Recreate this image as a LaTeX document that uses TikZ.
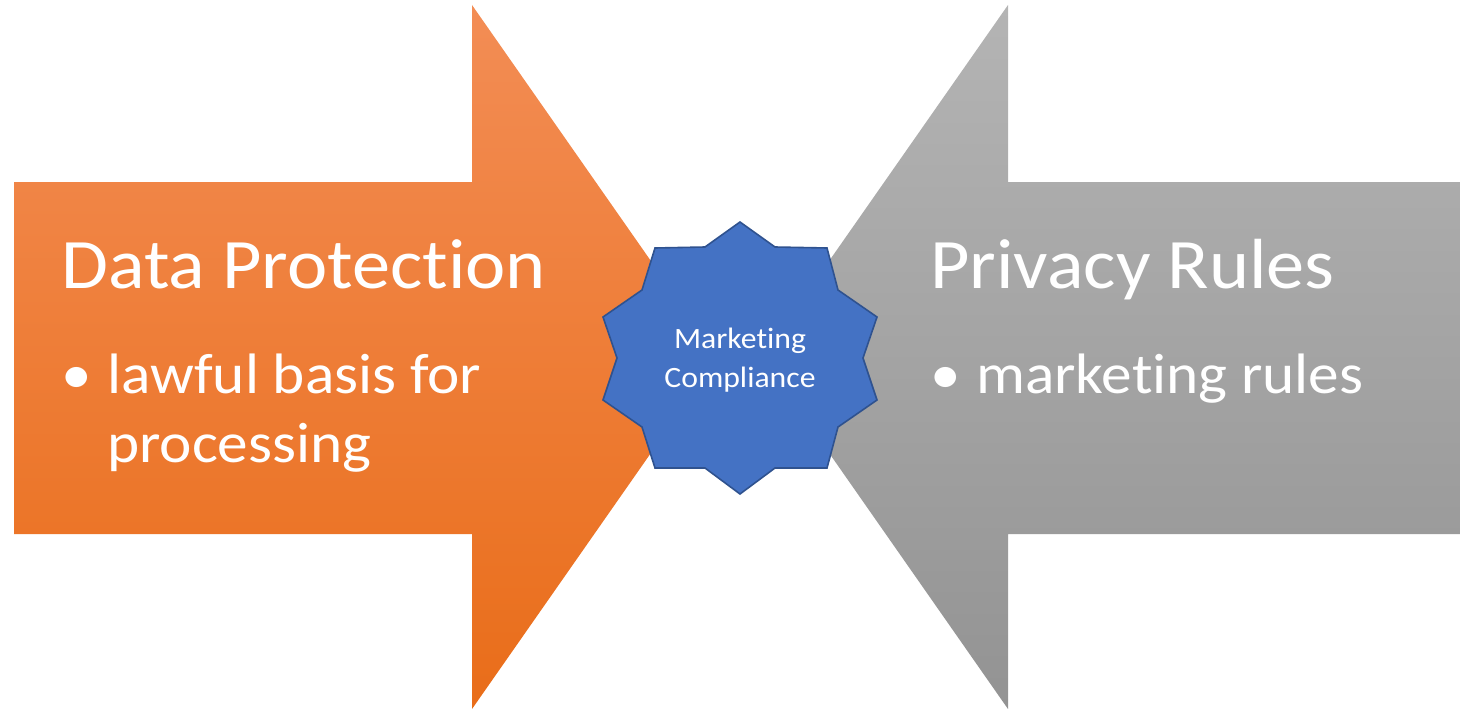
\documentclass[tikz,border=0pt]{standalone}
\usepackage{fontspec}
\setmainfont{Carlito}[Ligatures=NoCommon]
\definecolor{orTop}{HTML}{F38D55}
\definecolor{orBot}{HTML}{E96D19}
\definecolor{grTop}{HTML}{B4B4B4}
\definecolor{grBot}{HTML}{939393}
\definecolor{starFill}{HTML}{4472C4}
\definecolor{starLine}{HTML}{2F528F}
\newcommand{\wide}[1]{\scalebox{1.075}[1]{#1}}
\tikzset{
  orangearrow/.style={top color=orTop, bottom color=orBot, draw=none},
  grayarrow/.style={top color=grTop, bottom color=grBot, draw=none},
  starshape/.style={fill=starFill, draw=starLine, line width=1.6pt, line join=miter},
  titletext/.style={text=white, inner sep=0pt, anchor=base west, font=\fontsize{71}{85}\selectfont},
  bodytext/.style={text=white, inner sep=0pt, anchor=base west, font=\fontsize{57}{68.7}\selectfont},
  startext/.style={text=white, inner sep=0pt, anchor=base, font=\fontsize{29.5}{36}\selectfont},
}
\begin{document}
\begin{tikzpicture}[x=1pt,y=-1pt]
\useasboundingbox (0,0) rectangle (1460,709);
% orange arrow
\path[orangearrow] (14,182) -- (472,182) -- (472,5) -- (718,357) -- (472,709) -- (472,534) -- (14,534) -- cycle;
% gray arrow
\path[grayarrow] (1460,182) -- (1008,182) -- (1008,5) -- (762,357) -- (1008,709) -- (1008,534) -- (1460,534) -- cycle;
% star
\draw[starshape] (740,222) -- (775,247) -- (827,248) -- (838,290) -- (877,317) -- (863,358) -- (877,400) -- (838,427) -- (827,468) -- (775,468) -- (740,494) -- (705,468) -- (655,468) -- (642,427) -- (603,400) -- (617,358) -- (603,317) -- (642,290) -- (655,248) -- (705,247) -- cycle;
\node[startext] (mc1) at (740,348) {\wide{Marketing}};
\node[startext] (mc2) at (740,387) {\wide{Compliance}};
% left texts
\node[titletext] (dp) at (61,288) {\wide{Data Protection}};
\node[bodytext] (b1) at (61,393) {\wide{•}};
\node[bodytext] (lb1) at (107,393) {\wide{lawful basis for}};
\node[bodytext] (lb2) at (107,462) {\wide{processing}};
% right texts
\node[titletext] (pr) at (930,288) {\wide{Privacy Rules}};
\node[bodytext] (b2) at (930,393) {\wide{•}};
\node[bodytext] (mr) at (976,393) {\wide{marketing rules}};
\end{tikzpicture}
\end{document}
